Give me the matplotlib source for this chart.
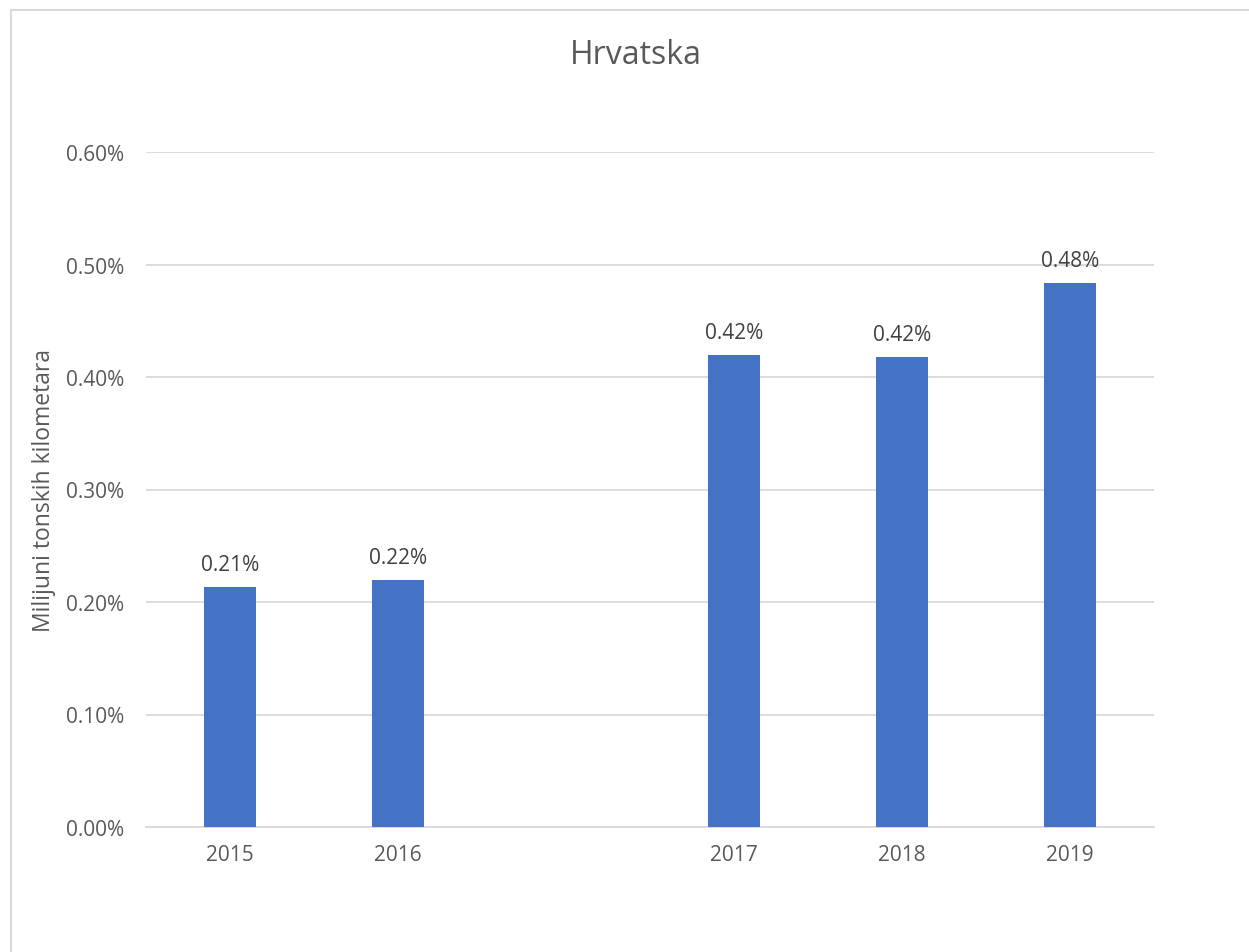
import matplotlib
matplotlib.use("Agg")
import matplotlib.pyplot as plt
import numpy as np
from matplotlib.patches import Rectangle

categories = ["2015", "2016", "", "2017", "2018", "2019"]
values = [0.2133, 0.2196, np.nan, 0.4196, 0.4178, 0.4836]  # percent
labels = ["0.21%", "0.22%", "", "0.42%", "0.42%", "0.48%"]
yticks = [0.0, 0.1, 0.2, 0.3, 0.4, 0.5, 0.6]

plt.rcParams['font.family'] = ['Open Sans', 'DejaVu Sans']

W, H = 1249, 953
fig = plt.figure(figsize=(W / 100, H / 100), dpi=100)
fig.patch.set_facecolor("white")

# chart border
fig.add_artist(Rectangle((11 / W, -0.1), 1.2, 1 - 11 / H + 0.1, transform=fig.transFigure,
                         fill=False, edgecolor="#d9d9d9", linewidth=1.5))

ax = fig.add_axes([146 / W, (H - 828) / H, 1008 / W, 675 / H])
x = np.arange(len(categories))
vals = np.array(values)
mask = ~np.isnan(vals)
bars = ax.bar(x[mask], vals[mask], width=0.315, color="#4472C4", zorder=3)

for xi, v, lab in zip(x[mask], vals[mask], np.array(labels)[mask]):
    ax.text(xi, v + 0.011, lab, ha="center", va="bottom", fontsize=15, color="#404040")

ax.set_xlim(-0.5, len(categories) - 0.5)
ax.set_ylim(0, 0.6)
ax.set_yticks(yticks)
ax.set_yticklabels([f"{t:.2f}%" for t in yticks])
ax.set_xticks(x[mask])
ax.set_xticklabels(np.array(categories)[mask])
ax.tick_params(axis="both", length=0, labelsize=15, colors="#595959")
ax.tick_params(axis="y", pad=16)
ax.tick_params(axis="x", pad=12)
ax.grid(axis="y", color="#d9d9d9", linewidth=1.3, zorder=0)
for s in ["top", "right", "left"]:
    ax.spines[s].set_visible(False)
ax.spines["bottom"].set_color("#d9d9d9")
ax.spines["bottom"].set_linewidth(1.3)

ax.set_ylabel("Milijuni tonskih kilometara", fontsize=16.5, color="#595959")
ax.yaxis.set_label_coords(-(146 - 56) / 1008, 0.5)

fig.text(636 / W, 1 - 55 / H, "Hrvatska", ha="center", va="center", fontsize=23, color="#595959")

fig.savefig("out.png", dpi=100)
